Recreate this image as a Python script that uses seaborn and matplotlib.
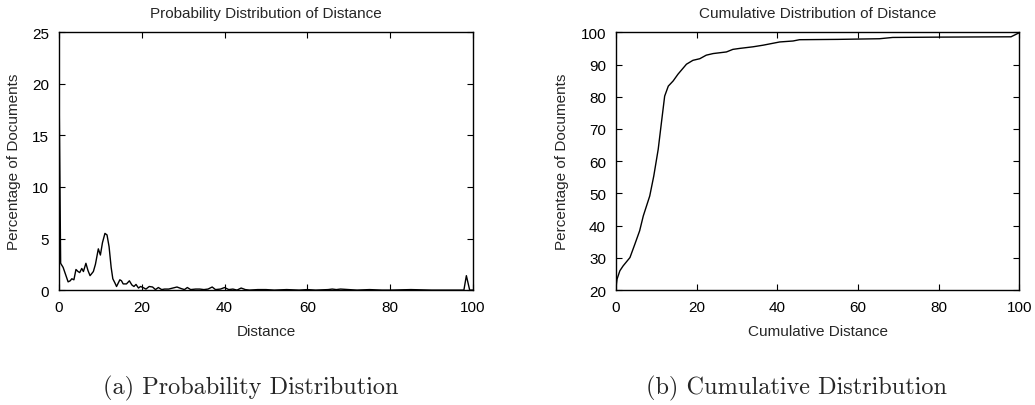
import numpy as np
import pandas as pd
import matplotlib
matplotlib.use("Agg")
import matplotlib.pyplot as plt
import seaborn as sns

# probability distribution of distance
pdf_dist = [0, 0.4, 1.0, 1.6, 2.2, 2.7, 3.1, 3.6, 4.1, 4.6, 5.0, 5.5, 5.9, 6.5, 7.0, 7.5,
            8.3, 8.8, 9.5, 10.0, 10.5, 11.1, 11.6, 12.1, 12.6, 13.0, 13.5, 13.9, 14.7, 15.1,
            15.5, 16.3, 17.0, 17.6, 18.1, 18.6, 19.2, 19.7, 20.3, 21, 21.8, 22.6, 23.3, 24,
            24.8, 25.5, 26.5, 27.5, 28.5, 29.5, 30.3, 31, 31.8, 33, 34, 35, 36, 37, 37.8, 39,
            40, 41, 42, 43, 44, 45, 46, 48, 50, 52, 55, 58, 60, 62, 65, 66, 67, 68, 70, 72,
            75, 78, 80, 85, 90, 97.8, 98.4, 99.2, 100]
pdf_pct = [20.3, 2.6, 2.2, 1.5, 0.8, 0.9, 1.1, 1.0, 2.0, 1.8, 1.7, 2.1, 1.8, 2.6, 1.9, 1.4,
           1.8, 2.5, 4.0, 3.4, 4.6, 5.5, 5.35, 4.2, 2.2, 1.1, 0.7, 0.35, 1.0, 0.9,
           0.6, 0.6, 0.9, 0.5, 0.35, 0.55, 0.2, 0.35, 0.25, 0.1, 0.35, 0.3, 0.05, 0.25,
           0.05, 0.1, 0.1, 0.2, 0.3, 0.15, 0.05, 0.25, 0.05, 0.1, 0.1, 0.05, 0.1, 0.3, 0.05, 0.1,
           0.25, 0.05, 0.1, 0.0, 0.2, 0.05, 0.0, 0.05, 0.05, 0.0, 0.05, 0.0, 0.05, 0.0, 0.05, 0.1,
           0.05, 0.1, 0.05, 0.0, 0.05, 0.0, 0.0, 0.05, 0.0, 0.0, 1.4, 0.0, 0.0]

# cumulative distribution
cdf_dist = [0, 0.3, 1.0, 1.8, 3.5, 4.7, 5.9, 6.8, 8.4, 9.4, 10.5, 11.3, 12.1, 13.0, 14.2,
            15.4, 17.5, 19.1, 20.8, 22.4, 24.1, 27.4, 29.0, 30.7, 34.0, 36.5, 40.6, 43.9,
            45.5, 55, 65.3, 68.6, 80, 97.9, 100]
cdf_pct = [20.3, 23.4, 26.0, 27.5, 30.1, 34.2, 38.4, 43.0, 49.2, 55.4, 63.7, 72.0, 80.2, 83.3,
           84.9, 87.0, 90.1, 91.3, 91.8, 92.9, 93.4, 93.9, 94.7, 95.0, 95.5, 96.0, 97.0, 97.3,
           97.7, 97.8, 98.0, 98.4, 98.5, 98.6, 99.9]

sns.set_style("ticks")
plt.rcParams["font.family"] = ["Liberation Sans", "DejaVu Sans"]
fs = 11

fig = plt.figure(figsize=(10.35, 4.06), dpi=100)
ax1 = fig.add_axes([0.057, 0.283, 0.400, 0.635])
ax2 = fig.add_axes([0.595, 0.283, 0.390, 0.635])

df1 = pd.DataFrame({"Distance": pdf_dist, "pct": pdf_pct})
df2 = pd.DataFrame({"Distance": cdf_dist, "pct": cdf_pct})
sns.lineplot(data=df1, x="Distance", y="pct", ax=ax1, color="black", linewidth=1)
sns.lineplot(data=df2, x="Distance", y="pct", ax=ax2, color="black", linewidth=1)

ax1.set_xlim(0, 100)
ax1.set_ylim(0, 25)
ax1.set_xticks(np.arange(0, 101, 20))
ax1.set_yticks(np.arange(0, 26, 5))
ax1.set_title("Probability Distribution of Distance", fontsize=fs, pad=11)
ax1.set_xlabel("Distance", fontsize=fs, labelpad=7)
ax1.set_ylabel("Percentage of Documents", fontsize=fs, labelpad=8)

ax2.set_xlim(0, 100)
ax2.set_ylim(20, 100)
ax2.set_xticks(np.arange(0, 101, 20))
ax2.set_yticks(np.arange(20, 101, 10))
ax2.set_title("Cumulative Distribution of Distance", fontsize=fs, pad=11)
ax2.set_xlabel("Cumulative Distance", fontsize=fs, labelpad=7)
ax2.set_ylabel("Percentage of Documents", fontsize=fs, labelpad=8)

for ax in (ax1, ax2):
    ax.tick_params(direction="in", length=4, width=0.8, top=True, right=True,
                   labelsize=fs, colors="black", pad=7)
    for s in ax.spines.values():
        s.set_linewidth(1)
        s.set_color("black")

fig.text(0.242, 0.044, "(a) Probability Distribution", family="cmr10", fontsize=17.5,
         ha="center", va="center")
fig.text(0.770, 0.044, "(b) Cumulative Distribution", family="cmr10", fontsize=17.5,
         ha="center", va="center")

fig.savefig("out.png", dpi=100)
